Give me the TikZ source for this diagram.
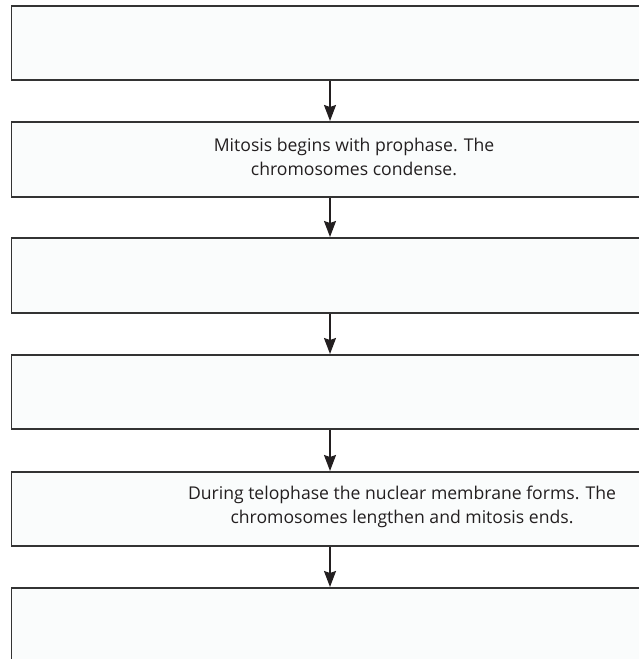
\documentclass[tikz,border=0pt]{standalone}
\usepackage{fontspec}
\setmainfont{Open Sans}
\usetikzlibrary{arrows.meta}
\definecolor{boxline}{HTML}{333333}
\definecolor{boxfill}{HTML}{FAFCFC}
\definecolor{txt}{HTML}{231F20}
\tikzset{
  stagebox/.style={draw=boxline, line width=1.9pt, fill=boxfill, rectangle,
    minimum width=640pt, anchor=north west, inner sep=0pt},
  flowarrow/.style={draw=txt, line width=1.6pt,
    -{Stealth[length=16pt,width=12pt,inset=2pt]}},
  stagetext/.style={text=txt, font=\fontsize{17.6}{24}\selectfont, align=center, inner sep=0pt}
}
\begin{document}
\begin{tikzpicture}[x=1pt,y=1pt]
\useasboundingbox (0,0) rectangle (639,659);
\clip (0,0) rectangle (639,659);
\node[stagebox, minimum height=74pt] (b1) at (10.5,654) {};
\node[stagebox, minimum height=75pt] (b2) at (10.5,538) {};
\node[stagebox, minimum height=75pt] (b3) at (10.5,422) {};
\node[stagebox, minimum height=74pt] (b4) at (10.5,305) {};
\node[stagebox, minimum height=74pt] (b5) at (10.5,188) {};
\node[stagebox, minimum height=80pt] (b6) at (10.5,72) {};
\coordinate (ax) at (330,0);
\draw[flowarrow] (ax |- b1.south) -- (ax |- b2.north);
\draw[flowarrow] (ax |- b2.south) -- (ax |- b3.north);
\draw[flowarrow] (ax |- b3.south) -- (ax |- b4.north);
\draw[flowarrow] (ax |- b4.south) -- (ax |- b5.north);
\draw[flowarrow] (ax |- b5.south) -- (ax |- b6.north);
\node[stagetext] (t2) at (354,502) {Mitosis begins with prophase. The\\chromosomes condense.};
\node[stagetext] (t5) at (402,152) {During telophase the nuclear membrane forms. The\\chromosomes lengthen and mitosis ends.};
\end{tikzpicture}
\end{document}
